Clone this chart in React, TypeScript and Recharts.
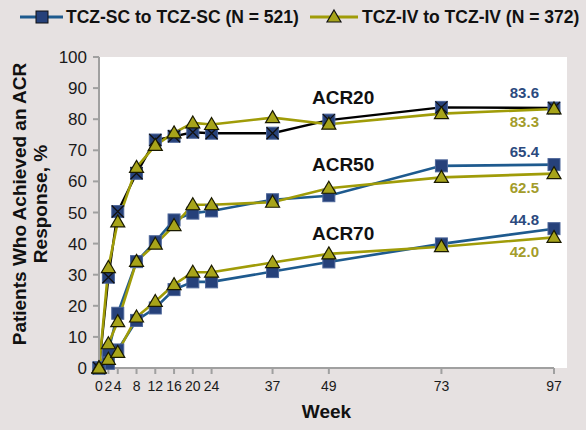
import React from "react";
import {
  LineChart,
  Line,
  XAxis,
  YAxis,
  Legend,
  Label,
  ReferenceDot,
} from "recharts";

// weeks on the x axis
const weeks = [0, 2, 4, 8, 12, 16, 20, 24, 37, 49, 73, 97];
const yTicks = [0, 10, 20, 30, 40, 50, 60, 70, 80, 90, 100];

// % of patients with a response
const sc20 = [0, 29.2, 50.3, 62.6, 73.3, 74.5, 75.8, 75.5, 75.5, 79.7, 83.8, 83.6];
const iv20 = [0, 32.3, 47.0, 64.5, 71.6, 75.6, 78.8, 78.3, 80.5, 78.4, 81.8, 83.3];
const sc50 = [0, 5.5, 17.6, 34.2, 40.6, 47.6, 49.8, 50.5, 54.1, 55.4, 65.0, 65.4];
const iv50 = [0, 7.8, 14.9, 34.3, 39.8, 45.8, 52.5, 52.5, 53.3, 57.8, 61.3, 62.5];
const sc70 = [0, 1.5, 5.8, 15.3, 19.3, 25.2, 27.7, 27.7, 31.0, 34.1, 39.9, 44.8];
const iv70 = [0, 2.8, 5.0, 16.4, 21.4, 26.8, 30.8, 30.8, 33.9, 36.7, 39.0, 42.0];

const scName = "TCZ-SC to TCZ-SC (N = 521)";
const ivName = "TCZ-IV to TCZ-IV (N = 372)";

// text labels drawn in data space: [text, week, value]
const acrLabels: [string, number, number][] = [
  ["ACR20", 45.4, 87.1],
  ["ACR50", 45.4, 65.6],
  ["ACR70", 45.4, 43.4],
];
const endLabels: [string, number, number, "sc" | "iv"][] = [
  ["83.6", 93.8, 88.4, "sc"],
  ["83.3", 93.8, 79.1, "iv"],
  ["65.4", 93.8, 69.5, "sc"],
  ["62.5", 93.8, 57.9, "iv"],
  ["44.8", 93.8, 47.6, "sc"],
  ["42.0", 93.8, 37.3, "iv"],
];

const rows = weeks.map((w, i) => ({
  week: w,
  sc20: sc20[i],
  iv20: iv20[i],
  sc50: sc50[i],
  iv50: iv50[i],
  sc70: sc70[i],
  iv70: iv70[i],
}));

const FONT = "'Liberation Sans', Arial, sans-serif";
const BG = "#E6E1E1";
const BLUE = "#1E5A8E";
const NAVY = "#26417A";
const OLIVE = "#A09C08";
const TRI = "#A7A41A";
const AXIS = "#A0A0A0";

const Square = ({ cx, cy, cross }: any) => {
  if (cx == null || cy == null) return null;
  const s = 6;
  return (
    <g>
      <rect x={cx - s} y={cy - s} width={s * 2} height={s * 2} fill={NAVY} stroke="#4D6699" strokeWidth={1} />
      {cross && (
        <path
          d={`M${cx - s} ${cy - s}L${cx + s} ${cy + s}M${cx + s} ${cy - s}L${cx - s} ${cy + s}`}
          stroke="#111"
          strokeWidth={1.3}
        />
      )}
    </g>
  );
};

const Triangle = ({ cx, cy }: any) => {
  if (cx == null || cy == null) return null;
  const w = 7;
  return (
    <path
      d={`M${cx} ${cy - 7}L${cx + w} ${cy + 5}L${cx - w} ${cy + 5}Z`}
      fill={TRI}
      stroke="#1a1a00"
      strokeWidth={1.2}
    />
  );
};

const sqDot = (props: any) => <Square key={`s${props.index}`} {...props} />;
const sqCrossDot = (props: any) => <Square key={`x${props.index}`} {...props} cross />;
const triDot = (props: any) => <Triangle key={`t${props.index}`} {...props} />;

const LegendContent = () => (
  <div style={{ position: "relative", height: 26 }}>
    <svg width={586} height={26} style={{ position: "absolute", left: 0, top: 0 }}>
      <line x1={20} y1={13} x2={63} y2={13} stroke={BLUE} strokeWidth={3} />
      <rect x={36} y={7} width={12} height={12} fill={NAVY} stroke="#111" strokeWidth={1} />
      <line x1={310} y1={13} x2={358} y2={13} stroke={OLIVE} strokeWidth={3} />
      <path d="M334 6L341 18L327 18Z" fill={TRI} stroke="#111" strokeWidth={1.2} />
      <text x={66} y={19} fontFamily={FONT} fontWeight="bold" fontSize={17.5} fill="#111">
        {scName}
      </text>
      <text x={362} y={19} fontFamily={FONT} fontWeight="bold" fontSize={17.5} fill="#111">
        {ivName}
      </text>
    </svg>
  </div>
);

const YTitle = () => (
  <g fontFamily={FONT} fontWeight="bold" fontSize={19} fill="#111" textAnchor="middle">
    <text x={26} y={204} transform="rotate(-90 26 204)">
      Patients Who Achieved an ACR
    </text>
    <text x={47} y={204} transform="rotate(-90 47 204)">
      Response, %
    </text>
  </g>
);

const textAt = (value: string, anchor: string, color: string, size: number) => (props: any) => {
  const vb = props.viewBox || {};
  const x = vb.x + (vb.width || 0) / 2;
  const y = vb.y + (vb.height || 0) / 2;
  return (
    <text x={x} y={y} dy="0.36em" textAnchor={anchor} fontFamily={FONT} fontWeight="bold" fontSize={size} fill={color}>
      {value}
    </text>
  );
};

export default function App() {
  return (
    <div style={{ position: "absolute", left: 0, top: 0, width: 586, height: 430, background: BG, overflow: "hidden" }}>
      <div style={{ position: "absolute", left: 99, top: 57, width: 468, height: 311, background: "#fff" }} />
      <div style={{ position: "absolute", left: 0, top: 0 }}>
        <LineChart width={586} height={430} data={rows} margin={{ top: 31, right: 32, bottom: 10, left: 0 }}>
          <Legend verticalAlign="top" height={26} wrapperStyle={{ top: 4, left: 0, width: 586 }} content={<LegendContent />} />
          <XAxis
            dataKey="week"
            type="number"
            domain={[0, 97]}
            ticks={weeks}
            interval={0}
            height={52}
            stroke={AXIS}
            strokeWidth={2}
            tickSize={6}
            tickMargin={7}
            tick={{ fill: "#1a1a1a", fontSize: 14, fontFamily: FONT }}
          >
            <Label value="Week" position="insideBottom" offset={2} fill="#111" fontSize={19} fontWeight="bold" fontFamily={FONT} />
          </XAxis>
          <YAxis
            type="number"
            domain={[0, 100]}
            ticks={yTicks}
            interval={0}
            width={99}
            stroke={AXIS}
            strokeWidth={2}
            tickSize={6}
            tickMargin={6}
            tick={{ fill: "#1a1a1a", fontSize: 17, fontFamily: FONT }}
          >
            <Label content={<YTitle />} />
          </YAxis>

          <Line dataKey="sc70" name={scName} stroke={BLUE} strokeWidth={2.6} dot={sqDot} isAnimationActive={false} />
          <Line dataKey="sc50" name={scName} stroke={BLUE} strokeWidth={2.6} dot={sqDot} isAnimationActive={false} />
          <Line dataKey="sc20" name={scName} stroke="#000" strokeWidth={2.4} dot={sqCrossDot} isAnimationActive={false} />
          <Line dataKey="iv70" name={ivName} stroke={OLIVE} strokeWidth={2.6} dot={triDot} isAnimationActive={false} />
          <Line dataKey="iv50" name={ivName} stroke={OLIVE} strokeWidth={2.6} dot={triDot} isAnimationActive={false} />
          <Line dataKey="iv20" name={ivName} stroke={OLIVE} strokeWidth={2.6} dot={triDot} isAnimationActive={false} />

          {acrLabels.map(([t, x, y]) => (
            <ReferenceDot key={t} x={x} y={y} r={0} fill="none" stroke="none" label={textAt(t, "start", "#111", 19)} />
          ))}
          {endLabels.map(([t, x, y, s]) => (
            <ReferenceDot
              key={t}
              x={x}
              y={y}
              r={0}
              fill="none"
              stroke="none"
              label={textAt(t, "end", s === "sc" ? "#2B4A7E" : "#A39C2A", 15)}
            />
          ))}
        </LineChart>
      </div>
    </div>
  );
}
